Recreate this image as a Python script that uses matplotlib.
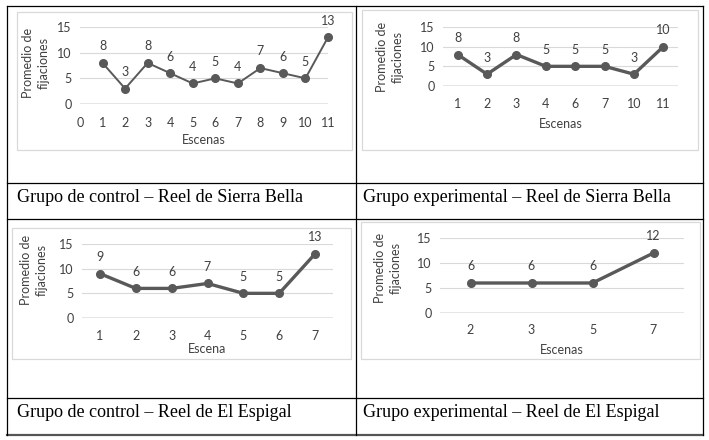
import matplotlib
matplotlib.use("Agg")
import matplotlib.pyplot as plt
from matplotlib.lines import Line2D
from matplotlib.patches import Rectangle

W, H = 709, 440
DPI = 100

# ---- data ----
c1_x = [1, 2, 3, 4, 5, 6, 7, 8, 9, 10, 11]
c1_y = [8, 3, 8, 6, 4, 5, 4, 7, 6, 5, 13]
c2_cats = ["1", "2", "3", "4", "6", "7", "10", "11"]
c2_y = [8, 3, 8, 5, 5, 5, 3, 10]
c3_cats = ["1", "2", "3", "4", "5", "6", "7"]
c3_y = [9, 6, 6, 7, 5, 5, 13]
c4_cats = ["2", "3", "5", "7"]
c4_y = [6, 6, 6, 12]
captions = ["Grupo de control – Reel de Sierra Bella",
            "Grupo experimental – Reel de Sierra Bella",
            "Grupo de control – Reel de El Espigal",
            "Grupo experimental – Reel de El Espigal"]
xlabels = ["Escenas", "Escenas", "Escena", "Escenas"]
ylabel = "Promedio de\nfijaciones"
yticks = [0, 5, 10, 15]

plt.rcParams['font.family'] = ['Lato', 'DejaVu Sans']
LINE = "#595959"
GRID = "#d9d9d9"
AXC = "#808080"
TXT = "#404040"
FS = 9

fig = plt.figure(figsize=(W / DPI, H / DPI), dpi=DPI)
fig.patch.set_facecolor("white")


def fx(x):
    return x / W


def fy(y):
    return 1 - y / H


def hline(y, x0, x1, lw=1.0, color="black"):
    fig.add_artist(Line2D([fx(x0), fx(x1)], [fy(y), fy(y)], lw=lw, color=color,
                          transform=fig.transFigure))


def vline(x, y0, y1, lw=1.0, color="black"):
    fig.add_artist(Line2D([fx(x), fx(x)], [fy(y0), fy(y1)], lw=lw, color=color,
                          transform=fig.transFigure))


# ---- table lines ----
L, R, T, B, M = 7, 703, 6, 435, 356
for y in (T, 183, 219, 398):
    hline(y, L, R, lw=0.9)
hline(B, L, R, lw=1.6, color="#555555")
vline(L, T, B, lw=0.9)
vline(R, T, B, lw=0.9)
vline(M, T, B, lw=0.9)


def frame(x0, y0, x1, y1):
    fig.add_artist(Rectangle((fx(x0), fy(y1)), fx(x1) - fx(x0), fy(y0) - fy(y1),
                             transform=fig.transFigure, fill=False,
                             edgecolor=GRID, lw=0.9))


def make_axes(x0, x1, y15, y0):
    return fig.add_axes([fx(x0), fy(y0), fx(x1) - fx(x0), fy(y15) - fy(y0)])


def style(ax, xl, yl_x, yl_y, xlab_y, xt_y):
    ax.set_ylim(0, 15)
    ax.set_yticks(yticks)
    for s in ax.spines.values():
        s.set_visible(False)
    for v in yticks[1:]:
        ax.axhline(v, color=GRID, lw=0.8, zorder=0)
    ax.axhline(0, color=AXC, lw=1.0, zorder=1)
    ax.tick_params(length=0, labelsize=FS, labelcolor=TXT, pad=6)
    ax.patch.set_alpha(0)
    # x tick pad so label centres sit at xt_y
    bb = ax.get_position()
    y0_px = (1 - bb.y0) * H
    pad_px = xt_y - y0_px - FS * 1.389 * 0.5
    ax.tick_params(axis="x", pad=max(pad_px, 0) / 1.389)
    fig.text(fx(yl_x), fy(yl_y), ylabel, rotation=90, ha="center", va="center",
             fontsize=FS, color=TXT, linespacing=1.3)
    fig.text(bb.x0 + bb.width / 2, fy(xlab_y), xl, ha="center", va="center",
             fontsize=FS, color=TXT)


def labels(ax, xs, ys, off=12):
    for x, y in zip(xs, ys):
        ax.annotate(str(y), (x, y), xytext=(0, off), textcoords="offset points",
                    ha="center", va="center", fontsize=FS, color=TXT)


# ---- chart 1 ----
frame(17, 12, 352, 150)
ax1 = make_axes(80, 328, 27, 104)
ax1.plot(c1_x, c1_y, color=LINE, lw=1.4, marker="o", ms=5.5, zorder=3, clip_on=False)
ax1.set_xlim(0, 11)
ax1.set_xticks(range(0, 12))
style(ax1, xlabels[0], 36, 63, 140, 123)
labels(ax1, c1_x, c1_y)

# ---- chart 2 ----
frame(362, 10, 698, 150)
ax2 = make_axes(443, 678, 27, 86)
p2 = list(range(len(c2_cats)))
ax2.plot(p2, c2_y, color=LINE, lw=2.4, marker="o", ms=5.5, zorder=3, clip_on=False)
ax2.set_xlim(-0.5, len(c2_cats) - 0.5)
ax2.set_xticks(p2, c2_cats)
style(ax2, xlabels[1], 390, 57, 124, 104)
labels(ax2, p2, c2_y)

# ---- chart 3 ----
frame(12, 228, 351, 359)
ax3 = make_axes(82, 333, 244, 318)
p3 = list(range(len(c3_cats)))
ax3.plot(p3, c3_y, color=LINE, lw=2.4, marker="o", ms=5.5, zorder=3, clip_on=False)
ax3.set_xlim(-0.5, len(c3_cats) - 0.5)
ax3.set_xticks(p3, c3_cats)
style(ax3, xlabels[2], 34, 270, 349, 336)
labels(ax3, p3, c3_y)

# ---- chart 4 ----
frame(361, 222, 700, 359)
ax4 = make_axes(440, 684, 238, 313)
p4 = list(range(len(c4_cats)))
ax4.plot(p4, c4_y, color=LINE, lw=2.4, marker="o", ms=5.5, zorder=3, clip_on=False)
ax4.set_xlim(-0.5, len(c4_cats) - 0.5)
ax4.set_xticks(p4, c4_cats)
style(ax4, xlabels[3], 388, 268, 350, 330)
labels(ax4, p4, c4_y)

# ---- captions ----
for (x, y), cap in zip([(17, 197), (363, 197), (17, 412), (363, 412)], captions):
    fig.text(fx(x), fy(y), cap, ha="left", va="center", fontsize=13,
             family=["Liberation Serif", "DejaVu Serif"], color="black")

fig.savefig("out.png", dpi=DPI)
